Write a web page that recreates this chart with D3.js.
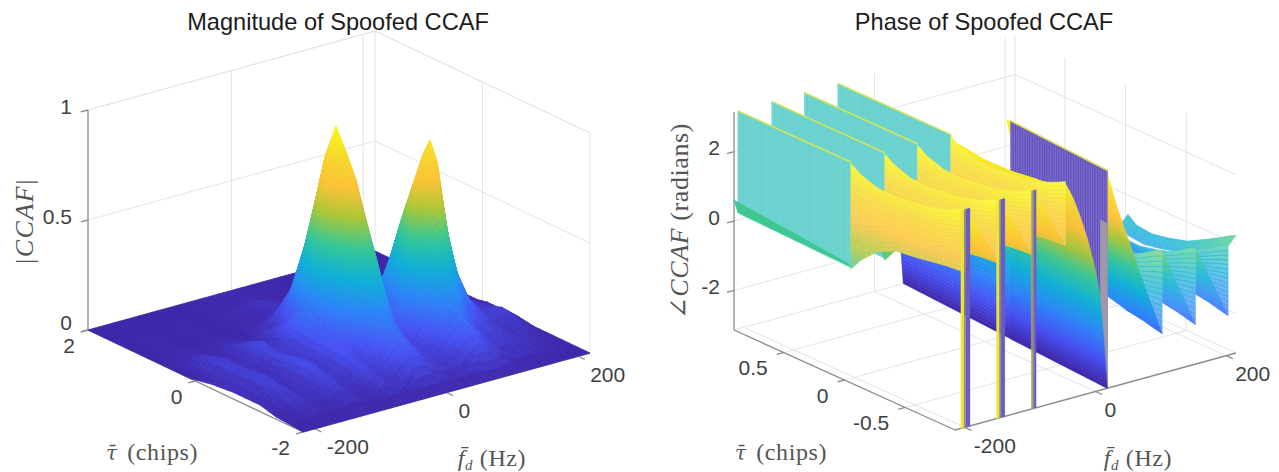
<!DOCTYPE html>
<html>
<head>
<meta charset="utf-8">
<script src="https://d3js.org/d3.v7.min.js"></script>
<style>
  html, body { margin: 0; background: #fff; }
  svg { display: block; }
  text { font-family: "Liberation Sans", Arial, sans-serif; }
  .math { font-family: "Liberation Serif", "DejaVu Serif", serif; }
</style>
</head>
<body>
<svg id="chart" width="1279" height="472"></svg>
<script>
// parula colour stops
const parulaStops = ["#3e26a8", "#4752f4", "#2d87f7", "#11b1d6", "#37c897", "#abc739", "#fdc338", "#f6d92f", "#f9fb15"];

// ---- magnitude panel, values
const magFd = [-218, -200, -180, -160, -140, -122, -105, -85, -70, -55, -42, -27, -13, 1, 15, 30, 45, 60, 70, 81, 92, 105, 120, 140, 165, 190, 218];
const magTau = [-2, -1.5, -1.2, -0.95, -0.7, -0.5, -0.3, -0.1, 0.1, 0.3, 0.55, 0.9, 2];
const magZ = [
  [0, 0, 0, 0, 0, 0, 0, 0, 0, 0, 0, 0, 0, 0, 0, 0, 0, 0, 0, 0, 0, 0, 0, 0, 0, 0, 0],
  [.01, .01, .04, .02, .03, .06, .03, .03, .08, .05, .06, .10, .12, .10, .07, .05, .07, .10, .12, .14, .12, .08, .05, .05, .03, .02, 0],
  [.03, .02, .07, .03, .04, .10, .05, .05, .12, .07, .09, .15, .19, .16, .10, .07, .10, .15, .19, .22, .18, .12, .08, .07, .04, .03, 0],
  [.03, .025, .09, .03, .04, .12, .06, .05, .14, .09, .12, .20, .27, .22, .13, .08, .14, .28, .38, .42, .36, .24, .14, .09, .04, .05, 0],
  [.03, .03, .09, .02, .04, .11, .05, .06, .14, .13, .21, .36, .47, .44, .23, .12, .25, .64, .87, .93, .82, .53, .31, .16, .07, .08, .01],
  [.025, .03, .08, .02, .03, .10, .05, .06, .14, .16, .30, .52, .69, .60, .31, .12, .20, .52, .70, .76, .66, .43, .26, .14, .06, .06, .01],
  [.02, .03, .08, .02, .03, .09, .05, .06, .15, .20, .40, .69, .90, .77, .39, .10, .15, .39, .53, .57, .50, .32, .20, .12, .05, .05, .01],
  [.01, .03, .08, .03, .04, .11, .06, .06, .16, .21, .45, .79, 1, .85, .43, .10, .12, .26, .34, .36, .32, .21, .12, .08, .04, .04, .01],
  [0, .03, .07, .02, .03, .09, .05, .04, .13, .17, .37, .66, .84, .70, .36, .10, .10, .14, .18, .19, .17, .11, .06, .05, .03, .03, 0],
  [0, .02, .05, .02, .02, .06, .03, .03, .08, .10, .23, .43, .55, .46, .23, .07, .07, .07, .09, .09, .08, .05, .03, .03, .02, .02, 0],
  [0, .01, .02, .01, .01, .03, .02, .01, .04, .04, .11, .20, .26, .22, .11, .04, .03, .02, .02, .03, .02, .02, .01, .01, .01, .01, 0],
  [0, 0, .01, 0, 0, .01, 0, 0, .01, .01, .02, .03, .05, .04, .02, .01, .01, 0, 0, 0, 0, 0, 0, 0, 0, 0, 0],
  [0, 0, 0, 0, 0, 0, 0, 0, 0, 0, 0, 0, 0, 0, 0, 0, 0, 0, 0, 0, 0, 0, 0, 0, 0, 0, 0]
];

// ---- phase panel, values
const phaseTau = [-0.91, -0.855, -0.765, -0.64, -0.51, -0.36, -0.22, -0.09, -0.02];
const fanFd = [-209, -157, -107, -56];
const fanShift = [10, 9.5, 8.5, 7, 6, 4.5, 3, 1, 0];
const fanTop = [3.14, 3.05, 2.9, 2.78, 2.72, 2.66, 2.7, 2.9, 3.1];
const fanBottom = [1.3, 1.3, 1.28, 1.22, 1.15, 1.1, 0.85, 0.4, 0.05];
const rightFanFd = [102, 153, 203];
const rightFanLift = [0.2, 0, -0.2];
const rightFanTop = [0.2, 0.1, -0.1, -0.35, -0.6, -0.75, -0.85, -0.8, -0.6];
const rightFanBottom = [-2, -1.95, -1.85, -1.75, -1.6, -1.45, -1.3, -1.15, -1.05];
const mainTau = [-0.91, -0.64, -0.36, -0.09, -0.02, 0, 0.455, 0.91];
const mainShift = [0, 3.9, 7.9, 11.7, 12.7, 13, 19.5, 26];
const mainCeil = [3.14, 2.78, 2.66, 2.9, 3.1, -0.9, -1.2, -2.2];
const mainFloor = [-99, -99, -99, -99, -99, 18, 28, 40];
const mainFd = [-45, -34, -23, -12, -1, 6, 12, 15, 18];
const mainLead = [-1, -0.6, -0.2, 0.2, 0.6, 0.8, 0.9, 1, 1];
const mainZ = [3.05, 2.6, 2.0, 1.3, 0.45, -0.3, -1.5, -2.3, -3.14];
const sweepFd = [17, 33, 56, 77, 102];
const sweepZ = [3.14, 2, 0.64, -0.6, -2];
const wallTau = [-0.02, 0.91];
const wallBottom = [0.1, 0.2];
const bandTop = [0.27, 0.6];
const bandLow = [0.13, 0.22];
const capFd = [203, 215];
const capZ = [-0.2, 0.05];
const stripFd = [-200, -146, -95];
const stripWidth = [1, 0.9, 0.45];
const mainWallFd = [18, 30];

// ---- axes
const magPanel = {
  L: [88, 330], F: [303, 432], R: [590, 353], H: 220,
  fdLim: [-218, 218], tauLim: [-2, 2], zLim: [0, 1],
  fdTicks: [-200, 0, 200], tauTicks: [-2, 0, 2], zTicks: [0, 0.5, 1],
  zLabels: ["0", "0.5", "1"], zDy: [-6, -2, -2], wallFd: [0, 200], wallTau: [0],
  zDx: -16, fdOff: [12, 20], tauOff: [-13, 17]
};
const phasePanel = {
  L: [734, 330], F: [955, 430], R: [1236, 353], H: 218,
  fdLim: [-215, 215], tauLim: [-0.91, 0.91], zLim: [-Math.PI, Math.PI],
  fdTicks: [-200, 0, 200], tauTicks: [-0.5, 0, 0.5], zTicks: [-2, 0, 2],
  zLabels: ["-2", "0", "2"], zDy: [-2, -2, -2], wallFd: [0, 200], wallTau: [-0.5, 0, 0.5],
  zDx: -14, fdOff: [9, 20], tauOff: [-16, 17]
};

const svg = d3.select("#chart");
const colorRange = parulaStops;

function makeProjection(p) {
  const fn = d3.scaleLinear().domain(p.fdLim).range([0, 1]);
  const tn = d3.scaleLinear().domain(p.tauLim).range([0, 1]);
  const zh = d3.scaleLinear().domain(p.zLim).range([0, p.H]);
  return (fd, tau, z) => {
    const a = fn(fd), b = tn(tau);
    return [
      p.F[0] + a * (p.R[0] - p.F[0]) + b * (p.L[0] - p.F[0]),
      p.F[1] + a * (p.R[1] - p.F[1]) + b * (p.L[1] - p.F[1]) - zh(z)
    ];
  };
}

function parulaScale(lim) {
  const dom = d3.range(colorRange.length).map(i => lim[0] + (lim[1] - lim[0]) * i / (colorRange.length - 1));
  return d3.scaleLinear().domain(dom).range(colorRange).clamp(true);
}

const polyPath = d3.line().curve(d3.curveLinearClosed);

function addPoly(g, pts, fill, strokeW) {
  g.append("path")
    .attr("d", polyPath(pts))
    .attr("fill", fill)
    .attr("stroke", fill)
    .attr("stroke-width", strokeW === undefined ? 0.8 : strokeW);
}

function drawFrame(g, p, proj) {
  const [z0, z1] = p.zLim;
  const [f0, f1] = p.fdLim;
  const [t0, t1] = p.tauLim;
  const grid = g.append("g").attr("stroke", "#e4e4e4").attr("stroke-width", 1).attr("fill", "none");
  const seg = (a, b, sel) => (sel || grid).append("line")
    .attr("x1", a[0]).attr("y1", a[1]).attr("x2", b[0]).attr("y2", b[1]);

  // back walls
  p.zTicks.forEach(z => {
    seg(proj(f0, t1, z), proj(f1, t1, z));
    seg(proj(f1, t1, z), proj(f1, t0, z));
  });
  if (p === magPanel) {
    seg(proj(f0, t1, z1), proj(f1, t1, z1));
    seg(proj(f1, t1, z1), proj(f1, t0, z1));
  }
  seg(proj(f1, t1, z0), proj(f1, t1, z1));
  if (p === magPanel) seg(proj(f1, t0, z0), proj(f1, t0, z1));
  p.wallFd.forEach(fd => seg(proj(fd, t1, z0), proj(fd, t1, z1)));
  p.wallTau.forEach(tau => seg(proj(f1, tau, z0), proj(f1, tau, z1)));
  // floor
  p.fdTicks.forEach(fd => seg(proj(fd, t0, z0), proj(fd, t1, z0)));
  p.tauTicks.forEach(tau => seg(proj(f0, tau, z0), proj(f1, tau, z0)));
  seg(proj(f0, t1, z0), proj(f1, t1, z0));
  seg(proj(f1, t1, z0), proj(f1, t0, z0));

  // axis lines and ticks
  const axis = g.append("g").attr("stroke", "#8c8c8c").attr("stroke-width", 1.3).attr("fill", "none");
  seg(proj(f0, t1, z0), proj(f0, t1, z1), axis);
  seg(proj(f0, t1, z0), proj(f0, t0, z0), axis);
  seg(proj(f0, t0, z0), proj(f1, t0, z0), axis);
  const dfd = (f1 - f0) * 0.025, dtau = (t1 - t0) * 0.03;
  p.zTicks.forEach(z => seg(proj(f0, t1, z), proj(f0 - dfd, t1, z), axis));
  p.fdTicks.forEach(fd => seg(proj(fd, t0, z0), proj(fd, t0 - dtau, z0), axis));
  p.tauTicks.forEach(tau => seg(proj(f0, tau, z0), proj(f0 - dfd, tau, z0), axis));
}

function drawLabels(g, p, proj) {
  const [z0] = p.zLim;
  const tick = g.append("g").attr("font-size", 21).attr("fill", "#3f3f3f");
  p.zTicks.forEach((z, i) => {
    const q = proj(p.fdLim[0], p.tauLim[1], z);
    tick.append("text").attr("x", q[0] + p.zDx).attr("y", q[1] + p.zDy[i])
      .attr("text-anchor", "end").attr("dominant-baseline", "middle").text(p.zLabels[i]);
  });
  p.fdTicks.forEach(fd => {
    const q = proj(fd, p.tauLim[0], z0);
    tick.append("text").attr("x", q[0] + p.fdOff[0]).attr("y", q[1] + p.fdOff[1])
      .attr("text-anchor", "start").attr("dominant-baseline", "middle").text(fd);
  });
  p.tauTicks.forEach(tau => {
    const q = proj(p.fdLim[0], tau, z0);
    tick.append("text").attr("x", q[0] + p.tauOff[0]).attr("y", q[1] + p.tauOff[1])
      .attr("text-anchor", "end").attr("dominant-baseline", "middle").text(tau);
  });
}

function axisLabels() {
  const titles = [[338, "Magnitude of Spoofed CCAF"], [984, "Phase of Spoofed CCAF"]];
  svg.selectAll(".title").data(titles).join("text").attr("class", "title")
    .attr("x", d => d[0]).attr("y", 30).attr("text-anchor", "middle")
    .attr("font-size", 23.6).attr("fill", "#1c1c1c").text(d => d[1]);

  const m = svg.append("g").attr("class", "math").attr("fill", "#555555").attr("font-size", 24);
  [[152, 460], [781, 460]].forEach(pos => {
    const t = m.append("text").attr("x", pos[0]).attr("y", pos[1]).attr("text-anchor", "middle").attr("letter-spacing", 0.6);
    t.append("tspan").style("font-family", "'DejaVu Serif'").attr("font-style", "italic").attr("font-size", 20).text("τ\u0304");
    t.append("tspan").attr("class", "math").attr("dx", 3).text("\u00a0(chips)");
  });
  [[492, 466], [1138, 466]].forEach(pos => {
    const t = m.append("text").attr("x", pos[0]).attr("y", pos[1]).attr("text-anchor", "middle").attr("letter-spacing", 0.6);
    t.append("tspan").attr("class", "math").attr("font-style", "italic").text("f\u0304");
    t.append("tspan").attr("class", "math").attr("font-style", "italic").attr("font-size", 15).attr("dy", 4).text("d");
    t.append("tspan").attr("class", "math").attr("dy", -4).text("\u00a0(Hz)");
  });
  const r1 = m.append("text").attr("transform", "translate(33,221) rotate(-90)").attr("text-anchor", "middle").attr("font-size", 26).attr("letter-spacing", 1.5);
  r1.append("tspan").attr("class", "math").text("|");
  r1.append("tspan").attr("class", "math").attr("font-style", "italic").text("CCAF");
  r1.append("tspan").attr("class", "math").text("|");
  const r2 = m.append("text").attr("transform", "translate(688,221) rotate(-90)").attr("text-anchor", "middle").attr("font-size", 26).attr("letter-spacing", 0.6);
  r2.append("tspan").attr("class", "math").text("∠");
  r2.append("tspan").attr("class", "math").attr("font-style", "italic").text("CCAF");
  r2.append("tspan").attr("class", "math").text("\u00a0(radians)");
}

// back to front over a tau/fd grid, cells split only for smooth shading
function drawMagSurface(g, proj, color) {
  for (let j = magTau.length - 2; j >= 0; j--) {
    for (let i = magFd.length - 2; i >= 0; i--) {
      const a = magZ[j][i], b = magZ[j][i + 1], c = magZ[j + 1][i], d = magZ[j + 1][i + 1];
      const range = d3.max([a, b, c, d]) - d3.min([a, b, c, d]);
      const n = Math.max(2, Math.min(12, Math.ceil(range * 30)));
      const at = (u, v) => {
        const z = a * (1 - u) * (1 - v) + b * u * (1 - v) + c * (1 - u) * v + d * u * v;
        return { z, p: proj(magFd[i] + u * (magFd[i + 1] - magFd[i]), magTau[j] + v * (magTau[j + 1] - magTau[j]), z) };
      };
      for (let vi = n - 1; vi >= 0; vi--) {
        for (let ui = n - 1; ui >= 0; ui--) {
          const q = [at(ui / n, vi / n), at((ui + 1) / n, vi / n), at((ui + 1) / n, (vi + 1) / n), at(ui / n, (vi + 1) / n)];
          addPoly(g, q.map(e => e.p), color(d3.mean(q, e => e.z)));
        }
      }
    }
  }
}

// generic sheet: fdAt(j,t), zAt(j,t), t runs from the low fd side (0) to the high fd side (1)
function drawSheet(g, proj, color, taus, fdAt, zAt, steps, whiten) {
  for (let j = taus.length - 2; j >= 0; j--) {
    for (let s = steps - 1; s >= 0; s--) {
      const n = 3;
      for (let k = n - 1; k >= 0; k--) {
        const corner = (t, row, w) => {
          const f = fdAt(row, t) + w * (fdAt(row + 1, t) - fdAt(row, t));
          const z = zAt(row, t) + w * (zAt(row + 1, t) - zAt(row, t));
          return { z, p: proj(f, taus[row] + w * (taus[row + 1] - taus[row]), z) };
        };
        const q = [
          corner(s / steps, j, k / n), corner((s + 1) / steps, j, k / n),
          corner((s + 1) / steps, j, (k + 1) / n), corner(s / steps, j, (k + 1) / n)
        ];
        let c = color(d3.mean(q, e => e.z));
        if (whiten) c = d3.interpolateRgb(c, "#ffffff")(whiten);
        addPoly(g, q.map(e => e.p), c, 0.5);
      }
    }
  }
}

function drawFan(g, proj, color, fd, topZ, lowZ, whiten) {
  const fdAt = j => fd + fanShift[j];
  drawSheet(g, proj, color, phaseTau, fdAt, (j, t) => topZ[j] + t * (lowZ[j] - topZ[j]), 12, whiten);
  // mesh lines
  d3.range(1, 15).forEach(l => {
    const t = l / 15;
    const pts = phaseTau.map((tau, j) => proj(fdAt(j), tau, topZ[j] + t * (lowZ[j] - topZ[j])));
    g.append("path").attr("d", d3.line().curve(d3.curveMonotoneX)(pts))
      .attr("fill", "none").attr("stroke-width", 0.5)
      .attr("stroke", color(topZ[4] + t * (lowZ[4] - topZ[4])));
  });
}

function drawWall(g, proj, fdA, fdB, tauA, tauB, low, high, fill, stripe, topLine) {
  const q = [proj(fdA, tauA, low[0]), proj(fdB, tauB, low[1]), proj(fdB, tauB, high), proj(fdA, tauA, high)];
  addPoly(g, q, fill);
  d3.range(1, 40).forEach(i => {
    const u = i / 40;
    const f = fdA + u * (fdB - fdA), t = tauA + u * (tauB - tauA), lo = low[0] + u * (low[1] - low[0]);
    const a = proj(f, t, lo), b = proj(f, t, high);
    g.append("line").attr("x1", a[0]).attr("y1", a[1]).attr("x2", b[0]).attr("y2", b[1])
      .attr("stroke", stripe).attr("stroke-width", 0.6);
  });
  const c = proj(fdA, tauA, high), d = proj(fdB, tauB, high);
  g.append("line").attr("x1", c[0]).attr("y1", c[1]).attr("x2", d[0]).attr("y2", d[1])
    .attr("stroke", topLine).attr("stroke-width", 1.6);
}

function drawPhaseSurface(g, proj, color) {
  const top = Math.PI, bottom = -Math.PI;

  // right hand side, far to near
  drawSheet(g, proj, color, phaseTau, (j, t) => capFd[0] + t * (capFd[1] - capFd[0]),
    (j, t) => rightFanTop[j] + capZ[0] + t * (capZ[1] - capZ[0]), 2, 0.2);
  rightFanFd.slice().reverse().forEach((fd, ri) => {
    const k = rightFanFd.length - 1 - ri;
    const tops = rightFanTop.map(v => v + rightFanLift[k]);
    drawFan(g, proj, color, fd - fanShift[0], tops, rightFanBottom, 0.3);
    if (k > 0) {
      const prevTops = rightFanTop.map(v => v + rightFanLift[k - 1]);
      drawSheet(g, proj, color, phaseTau,
        (j, t) => rightFanFd[k - 1] - fanShift[0] + fanShift[j] + t * (fd - rightFanFd[k - 1]),
        (j, t) => prevTops[j] + t * (rightFanBottom[j] - prevTops[j]), 10, 0.12);
    }
  });

  // sweep from the main wall down to the first right fan
  for (let c = sweepFd.length - 2; c >= 0; c--) {
    drawSheet(g, proj, color, phaseTau,
      (j, t) => {
        const wallAt = (mainWallFd[1] - mainWallFd[0]) * (phaseTau[j] + 0.91) / 0.89;
        const edge = sweepFd[c] + t * (sweepFd[c + 1] - sweepFd[c]);
        const u = (edge - sweepFd[0]) / (sweepFd[sweepFd.length - 1] - sweepFd[0]);
        return edge + (1 - u) * wallAt + u * (fanShift[j] - fanShift[0]);
      },
      (j, t) => {
        const edge = sweepFd[c] + t * (sweepFd[c + 1] - sweepFd[c]);
        const u = (edge - sweepFd[0]) / (sweepFd[sweepFd.length - 1] - sweepFd[0]);
        const z = sweepZ[c] + t * (sweepZ[c + 1] - sweepZ[c]);
        return z + u * (rightFanBottom[j] - rightFanBottom[0]);
      }, 8);
  }

  // main purple wall, the far patch first
  drawWall(g, proj, mainWallFd[1] - 14, mainWallFd[1] - 12, -0.02, 0.05, [0.6, 0.6], 1.75, "#7c70d2", "#6a5ec8", "#2d87f7");
  drawWall(g, proj, mainWallFd[0], mainWallFd[1], -0.91, -0.05, [bottom, bottom], top, "#7868c8", "#5243b6", "#e6e35a");
  addPoly(g, [proj(mainWallFd[0], -0.91, bottom), proj(mainWallFd[0] + 1, -0.85, bottom), proj(mainWallFd[0] + 1, -0.85, 1.6), proj(mainWallFd[0], -0.91, 1.6)], "#a098a8");

  // main big sheet
  for (let c = mainFd.length - 2; c >= 0; c--) {
    drawSheet(g, proj, color, mainTau,
      (j, t) => Math.max(mainFloor[j],
        mainFd[c] + mainShift[j] * mainLead[c] + t * (mainFd[c + 1] + mainShift[j] * mainLead[c + 1] - mainFd[c] - mainShift[j] * mainLead[c])),
      (j, t) => Math.min(mainCeil[j], mainZ[c] + t * (mainZ[c + 1] - mainZ[c])), 8);
  }

  // left fans, teeth and walls, far to near
  for (let k = fanFd.length - 1; k >= 0; k--) {
    if (k < fanFd.length - 1) {
      drawFan(g, proj, color, fanFd[k + 1], fanTop, fanBottom, 0.18);
      drawSheet(g, proj, color, phaseTau,
        (j, t) => fanFd[k] + fanShift[j] + t * (fanFd[k + 1] - fanFd[k]),
        (j, t) => fanTop[j] + t * (fanBottom[j] - fanTop[j]), 10);
    }
    drawWall(g, proj, fanFd[k], fanFd[k], wallTau[0], wallTau[1], wallBottom, top, "#70d5d0", "#5fc9cb", "#cfe65a");
  }
  drawFan(g, proj, color, fanFd[0], fanTop, fanBottom, 0.18);

  // green band at the low fd edge
  const band = [proj(-215, wallTau[0], bandTop[0]), proj(-215, wallTau[1], bandTop[1]), proj(-209, wallTau[1], bandLow[1]), proj(-209, wallTau[0], bandLow[0])];
  addPoly(g, band, color(0.05));

  // thin strips at the front edge
  stripFd.forEach((fd, i) => {
    const w = stripWidth[i];
    addPoly(g, [proj(fd + 1, -0.91, bottom), proj(fd + 1 + 7 * w, -0.91, bottom), proj(fd + 1 + 7 * w, -0.91, top), proj(fd + 1, -0.91, top)], "#6a5cc4", 0.3);
    addPoly(g, [proj(fd - 1 - 5 * w, -0.91, bottom), proj(fd - 1, -0.91, bottom), proj(fd - 1, -0.91, top), proj(fd - 1 - 5 * w, -0.91, top)], i < 2 ? "#efe538" : "#a9a47c", 0.3);
    addPoly(g, [proj(fd - 1, -0.91, bottom), proj(fd + 1, -0.91, bottom), proj(fd + 1, -0.91, top), proj(fd - 1, -0.91, top)], "#8e8a7a", 0.3);
  });
}

[magPanel, phasePanel].forEach(p => {
  const proj = makeProjection(p);
  const g = svg.append("g");
  drawFrame(g, p, proj);
  const color = parulaScale(p.zLim);
  const s = g.append("g");
  if (p === magPanel) drawMagSurface(s, proj, color);
  else drawPhaseSurface(s, proj, color);
  drawLabels(g, p, proj);
});
axisLabels();
</script>
</body>
</html>
